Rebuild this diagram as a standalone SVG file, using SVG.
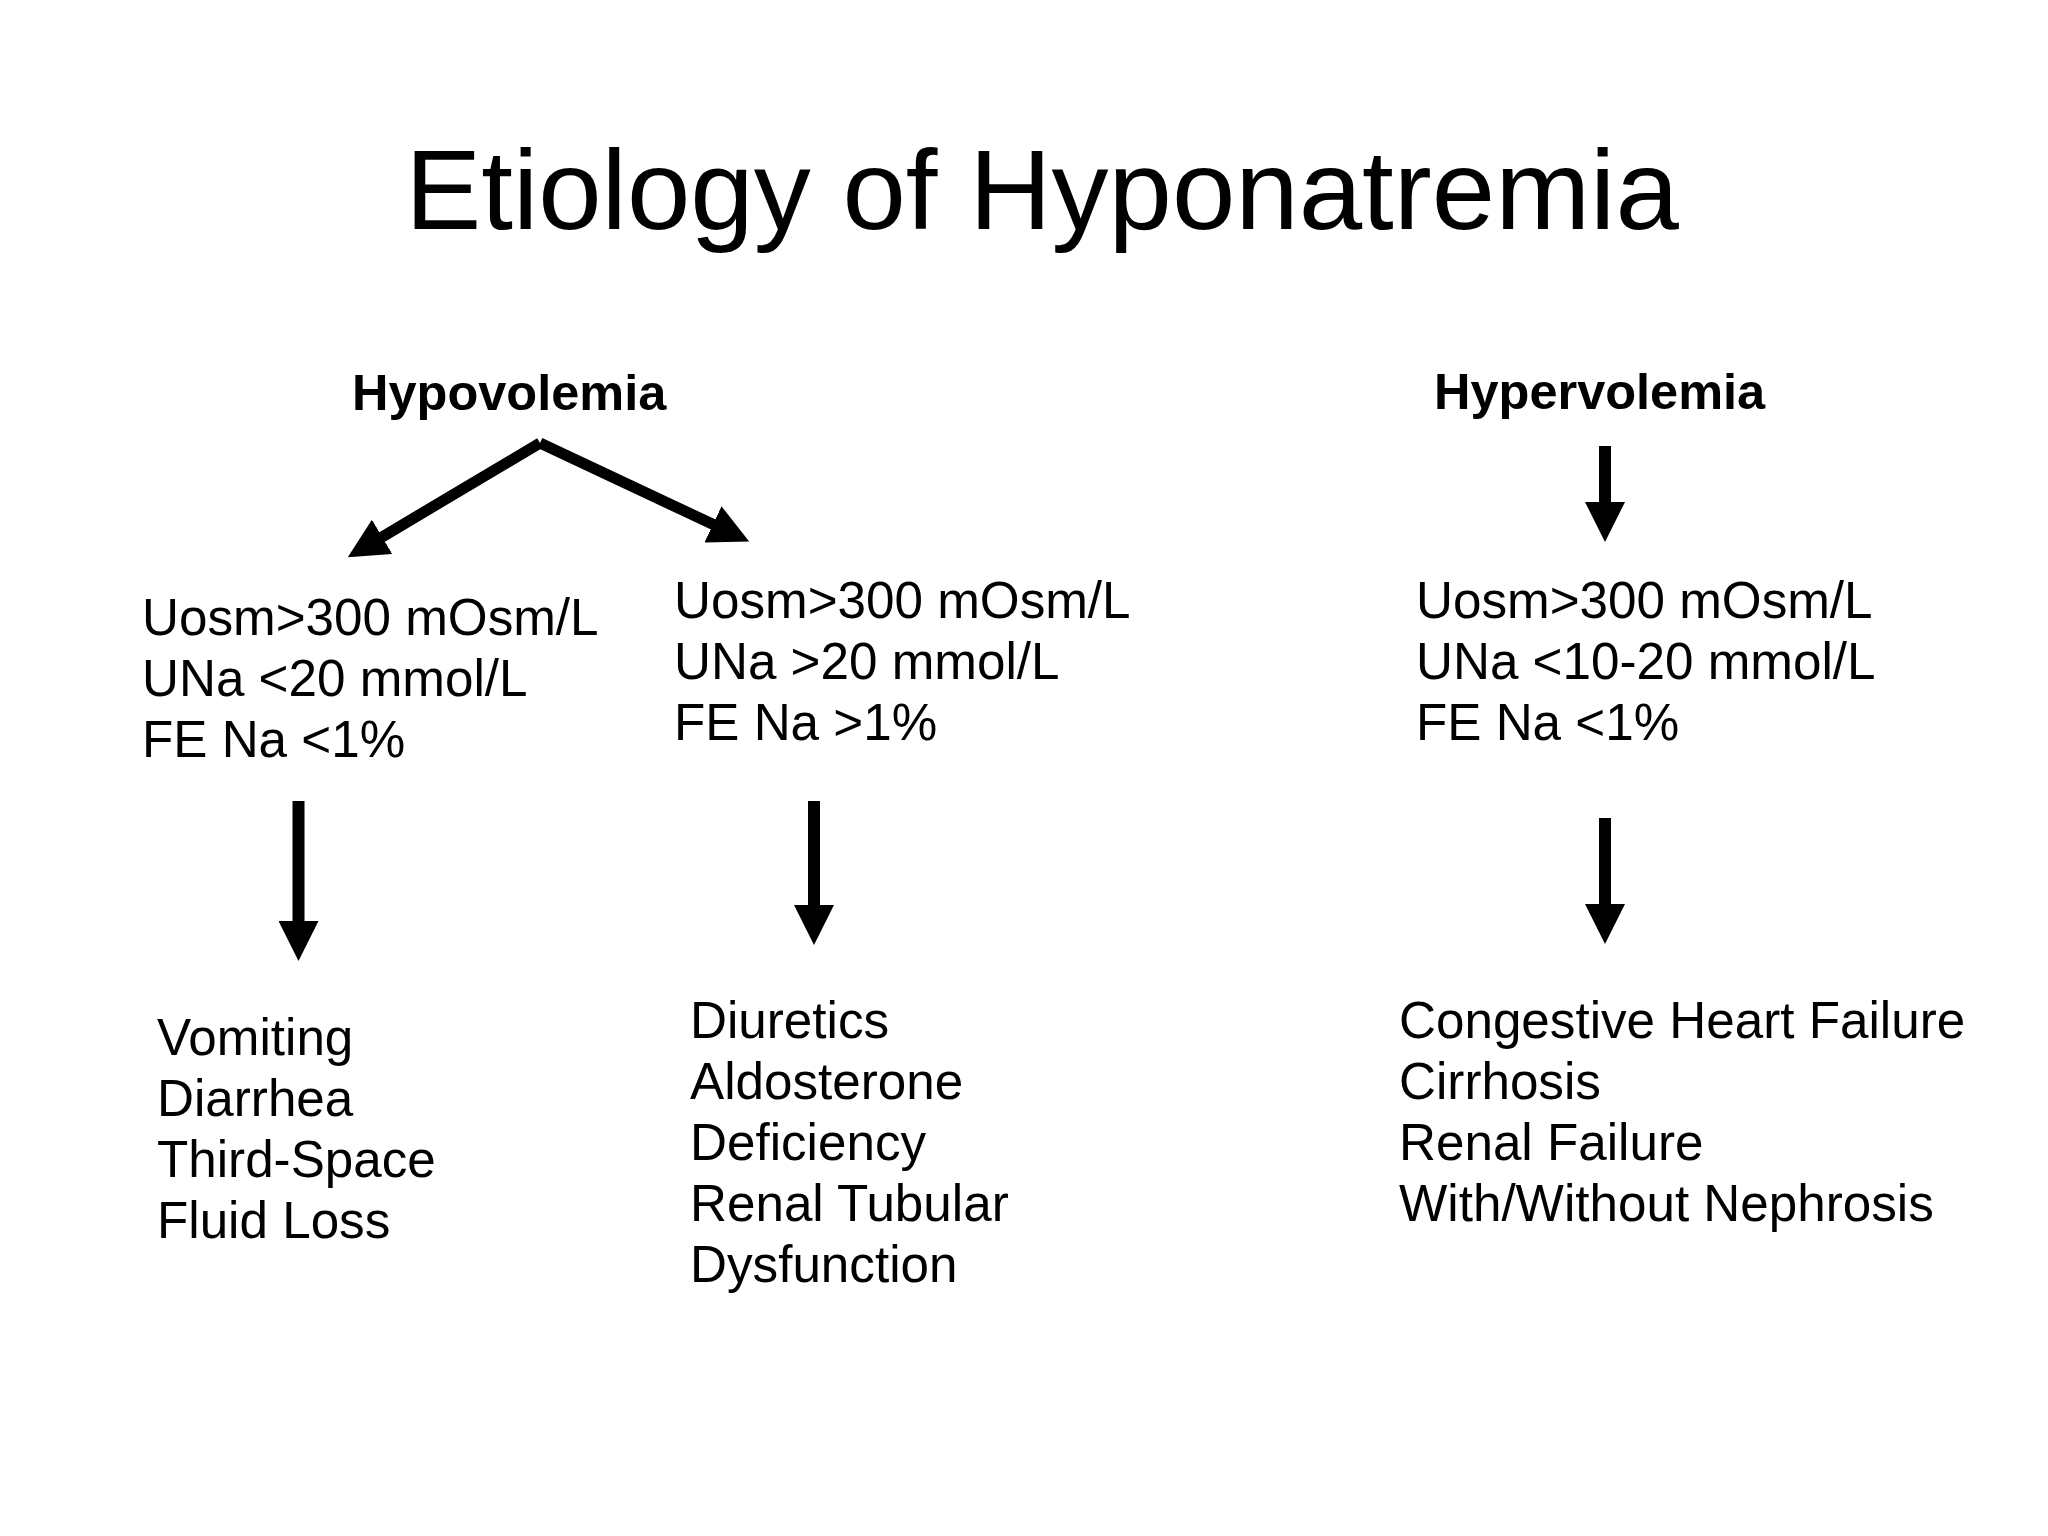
<svg xmlns="http://www.w3.org/2000/svg" width="2048" height="1536" viewBox="0 0 2048 1536">
<style>
text{font-family:"Liberation Sans",Arial,sans-serif;fill:#000}
.title{font-size:114px}
.head{font-size:50.5px;font-weight:bold}
.body{font-size:51.2px}
.arr{stroke:#000;stroke-width:12;fill:none;marker-end:url(#ah)}
.arrd{stroke:#000;stroke-width:11;fill:none;marker-end:url(#ah)}
</style>
<defs>
<marker id="ah" markerUnits="userSpaceOnUse" markerWidth="40" markerHeight="40" viewBox="0 0 40 40" refX="1" refY="20" orient="auto">
<path d="M0,0 L40,20 L0,40 z" fill="#000"/>
</marker>
</defs>
<rect width="2048" height="1536" fill="#fff"/>
<g id="title"><text class="title" x="1042" y="229" text-anchor="middle">Etiology of Hyponatremia</text></g>
<g id="hypovolemia"><text class="head" x="352" y="410">Hypovolemia</text></g>
<g id="hypervolemia"><text class="head" x="1434" y="409">Hypervolemia</text></g>
<g id="hypo-low-una"><text class="body" x="142" y="635"><tspan x="142">Uosm&gt;300 mOsm/L</tspan><tspan x="142" dy="61">UNa &lt;20 mmol/L</tspan><tspan x="142" dy="61">FE Na &lt;1%</tspan></text></g>
<g id="hypo-high-una"><text class="body" x="674" y="618"><tspan x="674">Uosm&gt;300 mOsm/L</tspan><tspan x="674" dy="61">UNa &gt;20 mmol/L</tspan><tspan x="674" dy="61">FE Na &gt;1%</tspan></text></g>
<g id="hyper-labs"><text class="body" x="1416" y="618"><tspan x="1416">Uosm&gt;300 mOsm/L</tspan><tspan x="1416" dy="61">UNa &lt;10-20 mmol/L</tspan><tspan x="1416" dy="61">FE Na &lt;1%</tspan></text></g>
<g id="extrarenal-causes"><text class="body" x="157" y="1055"><tspan x="157">Vomiting</tspan><tspan x="157" dy="61">Diarrhea</tspan><tspan x="157" dy="61">Third-Space</tspan><tspan x="157" dy="61">Fluid Loss</tspan></text></g>
<g id="renal-causes"><text class="body" x="690" y="1038"><tspan x="690">Diuretics</tspan><tspan x="690" dy="61">Aldosterone</tspan><tspan x="690" dy="61">Deficiency</tspan><tspan x="690" dy="61">Renal Tubular</tspan><tspan x="690" dy="61">Dysfunction</tspan></text></g>
<g id="edematous-causes"><text class="body" x="1399" y="1038"><tspan x="1399">Congestive Heart Failure</tspan><tspan x="1399" dy="61">Cirrhosis</tspan><tspan x="1399" dy="61">Renal Failure</tspan><tspan x="1399" dy="61">With/Without Nephrosis</tspan></text></g>
<g id="connectors">
<path class="arrd" d="M540,443 L381.3,537.4"/>
<path class="arrd" d="M540,443 L713.9,524.8"/>
<path class="arr" d="M1605,446 L1605,503"/>
<path class="arr" d="M298.5,801 L298.5,922"/>
<path class="arr" d="M814,801 L814,906"/>
<path class="arr" d="M1605,818 L1605,905"/>
</g>
</svg>
